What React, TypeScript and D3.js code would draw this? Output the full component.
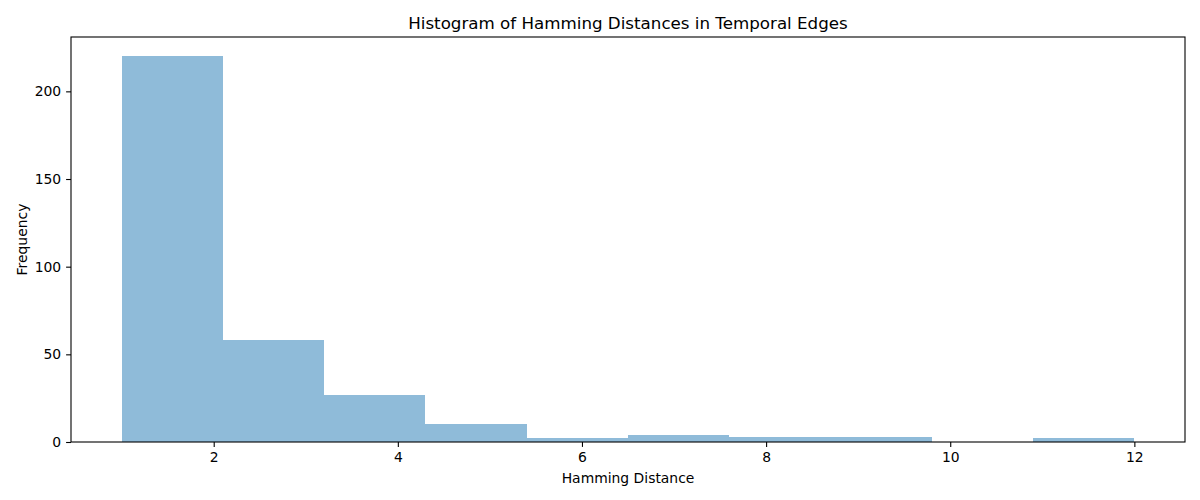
import { useEffect, useRef } from 'react'
import * as d3 from 'd3'

const binEdges = [1, 2.1, 3.2, 4.3, 5.4, 6.5, 7.6, 8.7, 9.8, 10.9, 12]
const counts = [220, 58, 27, 10, 2, 4, 3, 3, 0, 2]
const xTicks = [2, 4, 6, 8, 10, 12]
const yTicks = [0, 50, 100, 150, 200]

const title = 'Histogram of Hamming Distances in Temporal Edges'
const xLabel = 'Hamming Distance'
const yLabel = 'Frequency'

const App = () => {
  const ref = useRef<SVGSVGElement | null>(null)

  useEffect(() => {
    if (!ref.current) return
    const svg = d3.select(ref.current)
    svg.selectAll('*').remove()

    const width = 1200
    const height = 500
    const margin = { top: 37, right: 15, bottom: 58, left: 71 }
    const innerWidth = width - margin.left - margin.right
    const innerHeight = height - margin.top - margin.bottom
    const font = 'DejaVu Sans, sans-serif'

    const lo = binEdges[0]
    const hi = binEdges[binEdges.length - 1]
    const pad = (hi - lo) * 0.05
    const xScale = d3.scaleLinear().domain([lo - pad, hi + pad]).range([0, innerWidth])
    const maxY = (d3.max(counts) ?? 1) * 1.05
    const yScale = d3.scaleLinear().domain([0, maxY]).range([innerHeight, 0])

    svg.append('rect').attr('width', width).attr('height', height).attr('fill', '#fff')

    const root = svg.append('g').attr('transform', `translate(${margin.left},${margin.top})`)

    // histogram bars, matplotlib C0 at alpha 0.5
    root
      .selectAll('rect.bar')
      .data(counts)
      .join('rect')
      .attr('class', 'bar')
      .attr('x', (_, i) => xScale(binEdges[i]))
      .attr('width', (_, i) => xScale(binEdges[i + 1]) - xScale(binEdges[i]))
      .attr('y', (d) => yScale(d))
      .attr('height', (d) => innerHeight - yScale(d))
      .attr('fill', '#8fbbd9')
      .attr('shape-rendering', 'crispEdges')

    const xAxis = root
      .append('g')
      .attr('transform', `translate(0,${innerHeight})`)
      .call(d3.axisBottom(xScale).tickValues(xTicks).tickSize(4.9).tickPadding(4.9).tickSizeOuter(0))
    const yAxis = root
      .append('g')
      .call(d3.axisLeft(yScale).tickValues(yTicks).tickSize(4.9).tickPadding(4.9).tickSizeOuter(0))

    ;[xAxis, yAxis].forEach((axis) => {
      axis.select('.domain').remove()
      axis.selectAll('line').attr('stroke', '#000').attr('stroke-width', 1.1)
      axis
        .selectAll('text')
        .attr('fill', '#000')
        .attr('font-size', 13.9)
        .attr('font-family', font)
    })

    root
      .append('rect')
      .attr('width', innerWidth)
      .attr('height', innerHeight)
      .attr('fill', 'none')
      .attr('stroke', '#000')
      .attr('stroke-width', 1.1)

    svg
      .append('text')
      .attr('x', margin.left + innerWidth / 2)
      .attr('y', 29)
      .attr('text-anchor', 'middle')
      .attr('font-size', 16.7)
      .attr('font-family', font)
      .text(title)

    svg
      .append('text')
      .attr('x', margin.left + innerWidth / 2)
      .attr('y', 483)
      .attr('text-anchor', 'middle')
      .attr('font-size', 13.9)
      .attr('font-family', font)
      .text(xLabel)

    svg
      .append('text')
      .attr('transform', `translate(27,${margin.top + innerHeight / 2}) rotate(-90)`)
      .attr('text-anchor', 'middle')
      .attr('font-size', 13.9)
      .attr('font-family', font)
      .text(yLabel)
  }, [])

  return (
    <svg
      ref={ref}
      width={1200}
      height={500}
      style={{ position: 'absolute', left: 0, top: 0, display: 'block' }}
    />
  )
}

export default App
